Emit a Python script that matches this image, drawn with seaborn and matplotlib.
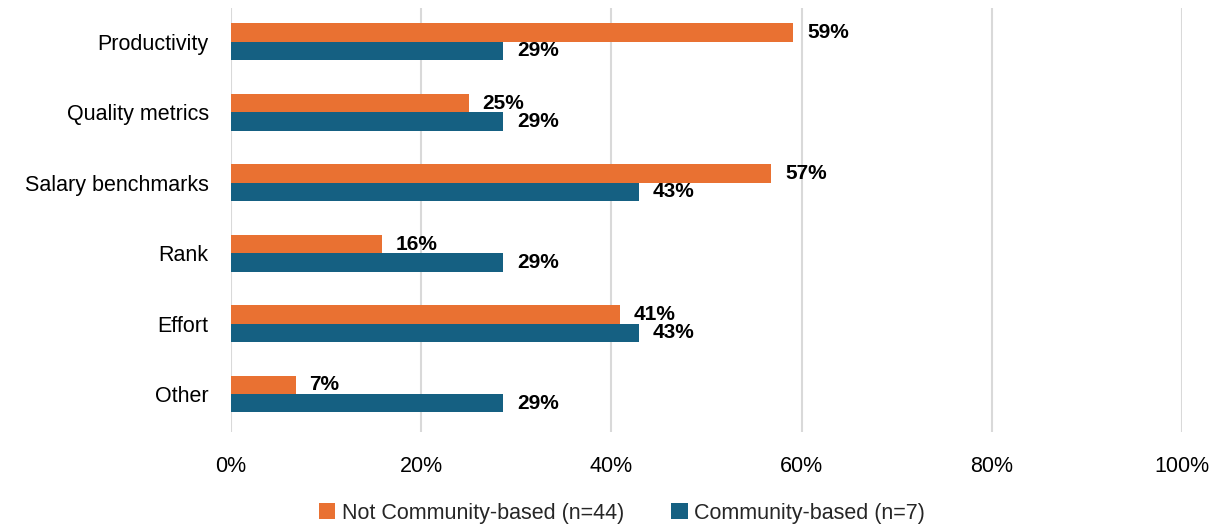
import pandas as pd
import matplotlib.pyplot as plt
import seaborn as sns
from matplotlib.ticker import PercentFormatter

categories = ['Productivity', 'Quality metrics', 'Salary benchmarks', 'Rank', 'Effort', 'Other']
not_community = [59.1, 25.0, 56.8, 15.9, 40.9, 6.8]
community = [28.6, 28.6, 42.9, 28.6, 42.9, 28.6]
groups = ['Not Community-based (n=44)', 'Community-based (n=7)']

df = pd.DataFrame({
    'Category': categories * 2,
    'Share': not_community + community,
    'Group': [groups[0]] * len(categories) + [groups[1]] * len(categories),
})

sns.set_theme(style="white")
plt.rcParams['font.family'] = ['Liberation Sans', 'DejaVu Sans']

fig = plt.figure(figsize=(12.15, 5.29), dpi=100)
ax = fig.add_axes([0.190, 0.183, 0.783, 0.802])

sns.barplot(data=df, y='Category', x='Share', hue='Group', orient='h',
            palette=['#E97132', '#156082'], width=0.52, saturation=1,
            linewidth=0, ax=ax, zorder=3)

for cont in ax.containers:
    ax.bar_label(cont, labels=[f"{v:.0f}%" for v in cont.datavalues],
                 padding=10, fontsize=15, fontweight='bold', color='black')

ax.set_xlim(0, 100)
ax.set_ylim(5.54, -0.48)
ax.xaxis.set_major_formatter(PercentFormatter(decimals=0))
ax.set_xticks(range(0, 101, 20))
ax.grid(axis='x', color='#d9d9d9', linewidth=1.5, zorder=0)
ax.grid(axis='y', visible=False)
for s in ax.spines.values():
    s.set_visible(False)
ax.set_xlabel('')
ax.set_ylabel('')
ax.tick_params(axis='both', length=0, labelsize=15.5, colors='black')
ax.tick_params(axis='x', pad=17)
ax.tick_params(axis='y', pad=16)

handles, labels = ax.get_legend_handles_labels()
ax.get_legend().remove()
fig.legend(handles, labels, loc='center', bbox_to_anchor=(0.512, 0.03), ncol=2,
           frameon=False, fontsize=15.5, handlelength=0.75, handleheight=0.75,
           handletextpad=0.3, columnspacing=2.2)

fig.savefig('out.png', dpi=100)
